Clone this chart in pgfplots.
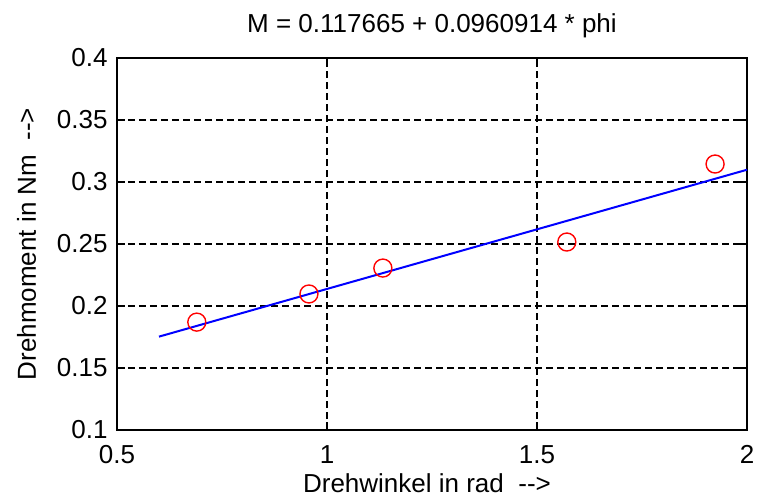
\documentclass[border=0pt]{standalone}
\usepackage{fontspec}
\setmainfont{Liberation Sans}
\usepackage{pgfplots}
\pgfplotsset{compat=1.18}
\begin{document}
\fontsize{13}{15.6}\selectfont
\begin{tikzpicture}
\begin{axis}[name=ax, scale only axis, width=315pt, height=186pt,
  xmin=0.5, xmax=2, ymin=0.1, ymax=0.4,
  xtick={0.5,1,1.5,2}, xticklabels={0.5,1,1.5,2},
  ytick={0.1,0.15,0.2,0.25,0.3,0.35,0.4}, yticklabels={0.1,0.15,0.2,0.25,0.3,0.35,0.4},
  /pgf/number format/assume math mode=true,
  ticklabel style={font=\fontsize{13}{15.6}\selectfont, inner sep=0pt},
  xticklabel style={anchor=north, yshift=-7.5pt},
  yticklabel style={anchor=east, xshift=-4.5pt},
  grid=major,
  major grid style={black, dash pattern=on 3.5pt off 2pt, line width=0.8pt},
  tick align=inside, major tick length=4pt,
  tick style={black, line width=0.8pt},
  axis line style={black, line width=1pt},
  clip=false]
\addplot[only marks, mark=o, red, mark size=4.5pt, line width=0.7pt] coordinates {(0.69,0.187)(0.957,0.2097)(1.133,0.2306)(1.571,0.2516)(1.924,0.3145)};
\addplot[blue, line width=1pt] coordinates {(0.6,0.1753)(2,0.3099)};
\end{axis}
\node[anchor=base, inner sep=0pt] at ([yshift=13pt]ax.north) {M = 0.117665 + 0.0960914 * phi};
\node[anchor=base, inner sep=0pt] at ([yshift=-31pt, xshift=-2.5pt]ax.south) {Drehwinkel in rad\ \ {-}{-}>};
\node[rotate=90, anchor=base, inner sep=0pt] at ([xshift=-40.5pt]ax.west) {Drehmoment in Nm\ \ {-}{-}>};
\pgfresetboundingbox
\path ([xshift=-58.5pt,yshift=-34.5pt]ax.south west) rectangle ([xshift=6.5pt,yshift=29pt]ax.north east);
\end{tikzpicture}
\end{document}
